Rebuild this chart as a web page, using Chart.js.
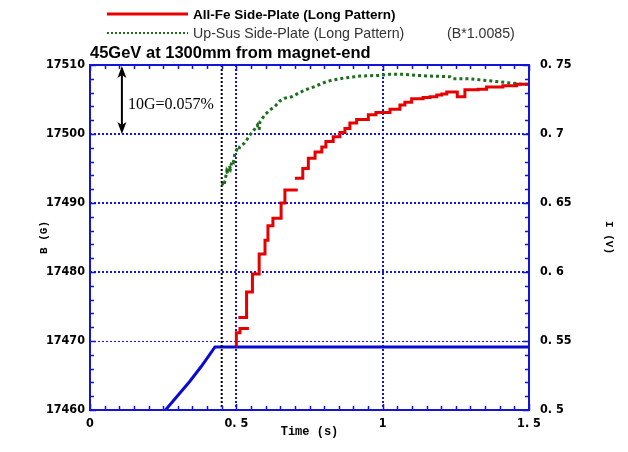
<!DOCTYPE html>
<html><head><meta charset="utf-8">
<script src="https://cdn.jsdelivr.net/npm/chart.js@4.4.1/dist/chart.umd.min.js"></script>
<style>html,body{margin:0;padding:0;background:#fff;} #wrap{width:628px;height:452px;position:relative;}</style>
</head><body><div id="wrap"><canvas id="c"></canvas></div>
<script>
const titleText = '45GeV at 1300mm from magnet-end';
const legendLabels = ['All-Fe Side-Plate (Long Pattern)', 'Up-Sus Side-Plate (Long Pattern)'];
const legendNote = '(B*1.0085)';
const annotationText = '10G=0.057%';
const xTitle = 'Time (s)';
const yTitle = 'B (G)';
const y2Title = 'I (V)';
const xTicks = [0, 0.5, 1, 1.5];
const bTicks = [17460, 17470, 17480, 17490, 17500, 17510];
const iTicks = [0.5, 0.55, 0.6, 0.65, 0.7, 0.75];

// All-Fe (red), stepped; null = break in trace
const redT = [0.499, 0.500, 0.5125, 0.543, 0.545,
  0.507, 0.535, 0.555, 0.578, 0.598, 0.608, 0.625, 0.653, 0.666, 0.710, 0.711,
  0.700, 0.727, 0.746, 0.769, 0.792, 0.806, 0.831, 0.854, 0.871, 0.888, 0.911, 0.951, 0.977,
  1.025, 1.059, 1.076, 1.099, 1.138, 1.162, 1.185, 1.202, 1.219, 1.255, 1.281, 1.326, 1.355, 1.411, 1.458, 1.497];
const redB = [17469.4, 17471.2, 17471.8, 17471.8, null,
  17473.4, 17477.1, 17479.7, 17482.6, 17484.6, 17486.7, 17487.8, 17490.0, 17491.9, 17491.9, null,
  17493.6, 17495.0, 17496.5, 17497.4, 17498.1, 17498.9, 17499.6, 17500.2, 17500.8, 17501.6, 17502.1, 17502.8, 17503.1,
  17503.6, 17504.2, 17504.6, 17505.1, 17505.3, 17505.4, 17505.65, 17505.8, 17506.1, 17505.4, 17506.4, 17506.5, 17506.8, 17507.0, 17507.2, 17507.2];

// Up-Sus (green dotted), B*1.0085
const greenT = [0.452, 0.456, 0.459, 0.463, 0.467, 0.471, 0.476, 0.480, 0.485, 0.490, 0.495, 0.501, 0.507, 0.512, 0.518,
  0.526, 0.535, 0.547, 0.556, 0.564, 0.572, 0.578, 0.581, 0.598, 0.615, 0.632, 0.649, 0.666, 0.689, 0.712, 0.735,
  0.757, 0.780, 0.803, 0.826, 0.866, 0.923, 0.991, 1.025, 1.071, 1.116, 1.162, 1.230, 1.241, 1.298, 1.344, 1.390, 1.435, 1.480, 1.497];
const greenB = [17492.6, 17493.1, 17492.8, 17493.6, 17494.6, 17494.2, 17495.4, 17495.0, 17496.1, 17495.9, 17497.1, 17497.7, 17497.5, 17498.2, 17498.4,
  17498.6, 17499.1, 17499.9, 17500.3, 17500.8, 17501.3, 17500.6, 17501.8, 17502.8, 17503.5, 17504.0, 17504.8, 17505.2, 17505.4, 17505.9, 17506.4,
  17506.7, 17507.1, 17507.5, 17507.8, 17508.1, 17508.4, 17508.5, 17508.65, 17508.65, 17508.5, 17508.4, 17508.3, 17508.0, 17508.0, 17507.8, 17507.6, 17507.4, 17507.2, 17507.2];

// Current (blue), right axis
const blueT = [0.256, 0.263, 0.300, 0.340, 0.380, 0.410, 0.427, 0.45, 0.6, 0.8, 1.0, 1.2, 1.4, 1.5];
const blueI = [0.4995, 0.5012, 0.5105, 0.5205, 0.5315, 0.5405, 0.5457, 0.5457, 0.5456, 0.5457, 0.5456, 0.5457, 0.5456, 0.5456];

const markerT = 0.45;
const arrowT = 0.109;
const arrowB = [17500, 17510];

const BLUE = '#1414d8';
const tickFont = {family: '"Liberation Sans Narrow", "DejaVu Sans Condensed", sans-serif', size: 12.5, weight: 'bold'};
const titleFont = {family: '"Liberation Mono", "DejaVu Sans Mono", monospace', size: 12, weight: 'bold'};
const fmt = v => { const s = String(Math.round(v * 1000) / 1000); return s.replace('.', '. '); };
const fmtB = v => String(v);

const toPts = (xs, ys) => xs.map((t, i) => ({x: t, y: ys[i]}));

const decor = {
  id: 'decor',
  afterDatasetsDraw(chart) {
    const {ctx, chartArea: a, scales: {x, y, y2}} = chart;
    ctx.save();
    // vertical black dotted marker
    const mx = x.getPixelForValue(markerT);
    ctx.strokeStyle = '#000'; ctx.lineWidth = 2; ctx.setLineDash([2, 2]);
    ctx.beginPath(); ctx.moveTo(mx, a.top); ctx.lineTo(mx, a.bottom); ctx.stroke();
    ctx.setLineDash([]);
    // minor ticks
    ctx.strokeStyle = BLUE; ctx.lineWidth = 1.5;
    ctx.beginPath();
    for (let i = 0; i <= 30; i++) {
      const px = Math.round(x.getPixelForValue(i * 0.05)) + 0.5;
      const L = i % 10 === 0 ? 6 : 4;
      ctx.moveTo(px, a.bottom); ctx.lineTo(px, a.bottom - L);
      ctx.moveTo(px, a.top); ctx.lineTo(px, a.top + L);
    }
    for (let i = 0; i <= 25; i++) {
      const py = Math.round(y.getPixelForValue(17460 + 2 * i)) + 0.5;
      const L = i % 5 === 0 ? 6 : 4;
      ctx.moveTo(a.left, py); ctx.lineTo(a.left + L, py);
      const py2 = Math.round(y2.getPixelForValue(0.5 + 0.01 * i)) + 0.5;
      ctx.moveTo(a.right, py2); ctx.lineTo(a.right - L, py2);
    }
    ctx.stroke();
    // frame
    ctx.lineWidth = 2;
    ctx.strokeRect(a.left, a.top, a.right - a.left, a.bottom - a.top);
    // arrow
    const ax = x.getPixelForValue(arrowT);
    const ay1 = y.getPixelForValue(arrowB[1]) + 1, ay2 = y.getPixelForValue(arrowB[0]);
    ctx.strokeStyle = '#000'; ctx.fillStyle = '#000'; ctx.lineWidth = 2;
    ctx.beginPath(); ctx.moveTo(ax, ay1 + 8); ctx.lineTo(ax, ay2 - 8); ctx.stroke();
    ctx.beginPath(); ctx.moveTo(ax, ay1); ctx.lineTo(ax - 4.5, ay1 + 12); ctx.lineTo(ax, ay1 + 9); ctx.lineTo(ax + 4.5, ay1 + 12); ctx.closePath(); ctx.fill();
    ctx.beginPath(); ctx.moveTo(ax, ay2); ctx.lineTo(ax - 4.5, ay2 - 12); ctx.lineTo(ax, ay2 - 9); ctx.lineTo(ax + 4.5, ay2 - 12); ctx.closePath(); ctx.fill();
    ctx.font = '16px "Liberation Serif", "Times New Roman", serif';
    ctx.textBaseline = 'alphabetic'; ctx.textAlign = 'left';
    ctx.fillText(annotationText, ax + 6, (ay1 + ay2) / 2 + 9);
    // title
    ctx.font = 'bold 16.5px "Liberation Sans", Arial, sans-serif';
    ctx.fillStyle = '#000';
    ctx.fillText(titleText, a.left, 58);
    // legend
    ctx.lineWidth = 3; ctx.strokeStyle = '#e60000';
    ctx.beginPath(); ctx.moveTo(107, 14); ctx.lineTo(188, 14); ctx.stroke();
    ctx.strokeStyle = '#1e6e1e'; ctx.setLineDash([2, 2]); ctx.lineWidth = 2;
    ctx.beginPath(); ctx.moveTo(107, 33); ctx.lineTo(188, 33); ctx.stroke();
    ctx.setLineDash([]);
    ctx.font = 'bold 13.5px "Liberation Sans", Arial, sans-serif';
    ctx.fillStyle = '#000';
    ctx.fillText(legendLabels[0], 193, 19);
    ctx.font = '14.2px "Liberation Sans", Arial, sans-serif';
    ctx.fillStyle = '#333';
    ctx.fillText(legendLabels[1], 193, 38);
    ctx.fillText(legendNote, 447, 38);
    ctx.restore();
  }
};

new Chart(document.getElementById('c'), {
  type: 'line',
  data: {
    datasets: [
      {label: legendLabels[0], data: toPts(redT, redB), yAxisID: 'y', borderColor: '#e60000', borderWidth: 3, stepped: true, pointRadius: 0, spanGaps: false, fill: false},
      {label: legendLabels[1], data: toPts(greenT, greenB), yAxisID: 'y', borderColor: '#1e6e1e', borderWidth: 3, borderDash: [3, 3], pointRadius: 0, fill: false},
      {label: y2Title, data: toPts(blueT, blueI), yAxisID: 'y2', borderColor: '#0a0ad0', borderWidth: 3, pointRadius: 0, fill: false}
    ]
  },
  options: {
    responsive: true, maintainAspectRatio: false, animation: false,
    layout: {padding: {top: 65, left: 0, right: 0, bottom: 0}},
    plugins: {legend: {display: false}, tooltip: {enabled: false}, title: {display: false}},
    scales: {
      x: {
        type: 'linear', min: 0, max: 1.5,
        afterBuildTicks: s => { s.ticks = xTicks.map(v => ({value: v})); },
        ticks: {callback: fmt, padding: 6, color: '#000', font: tickFont, maxRotation: 0, autoSkip: false},
        grid: {drawTicks: false, lineWidth: 2, color: c => (c.tick && (c.tick.value === 0.5 || c.tick.value === 1)) ? BLUE : 'rgba(0,0,0,0)'},
        border: {display: false, dash: [2, 2]},
        title: {display: true, text: xTitle, color: '#000', font: titleFont, padding: {top: 0, bottom: 13}},
        afterFit: s => { s.height = 42; }
      },
      y: {
        type: 'linear', position: 'left', min: 17460, max: 17510,
        afterBuildTicks: s => { s.ticks = bTicks.map(v => ({value: v})); },
        ticks: {callback: fmtB, padding: 5, color: '#000', font: tickFont, autoSkip: false},
        grid: {drawTicks: false, lineWidth: c => (c.tick && c.tick.value === 17470) ? 1 : 2,
               color: c => (c.tick && c.tick.value > 17460 && c.tick.value < 17510) ? BLUE : 'rgba(0,0,0,0)'},
        border: {display: false, dash: [2, 2]},
        title: {display: true, text: yTitle, color: '#000', font: {family: titleFont.family, size: 11, weight: 'bold'}, padding: {top: 38, bottom: 0}},
        afterFit: s => { s.width = 90; }
      },
      y2: {
        type: 'linear', position: 'right', min: 0.5, max: 0.75,
        afterBuildTicks: s => { s.ticks = iTicks.map(v => ({value: v})); },
        ticks: {callback: fmt, padding: 11, color: '#000', font: tickFont, autoSkip: false},
        grid: {drawOnChartArea: false, drawTicks: false},
        border: {display: false},
        title: {display: true, text: y2Title, color: '#000', font: {family: titleFont.family, size: 11, weight: 'bold'}, padding: {top: 13, bottom: 0}},
        afterFit: s => { s.width = 99; }
      }
    }
  },
  plugins: [decor]
});
</script>
</body></html>
